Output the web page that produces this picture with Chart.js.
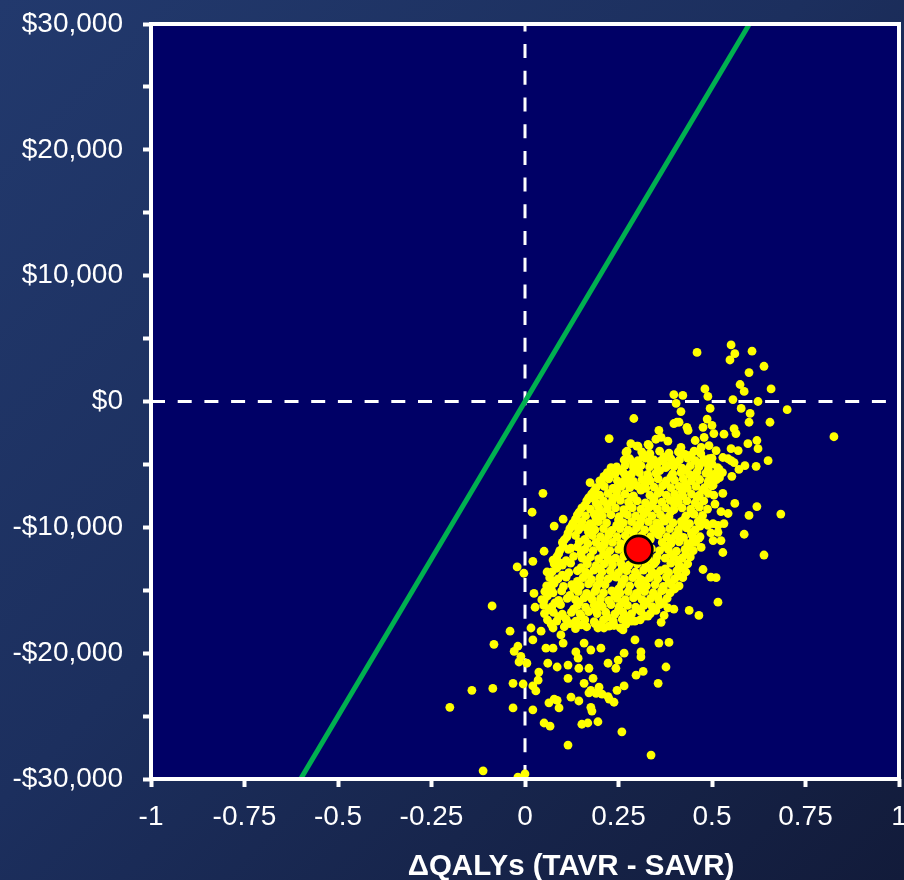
<!DOCTYPE html>
<html>
<head>
<meta charset="utf-8">
<script src="https://cdn.jsdelivr.net/npm/chart.js@4/dist/chart.umd.min.js"></script>
<style>
  html, body { margin: 0; padding: 0; }
  body {
    width: 904px; height: 880px; overflow: hidden;
    background: linear-gradient(135deg, #22396d 0%, #1c2f5e 45%, #121b3a 100%);
  }
  canvas { display: block; }
</style>
</head>
<body>
<canvas id="ce" width="904" height="880"></canvas>
<script>
// Axis ticks
const qalyTicks = [-1, -0.75, -0.5, -0.25, 0, 0.25, 0.5, 0.75, 1];
const costTicks = [-30000, -25000, -20000, -15000, -10000, -5000, 0, 5000, 10000, 15000, 20000, 25000, 30000];

// Willingness-to-pay threshold ($50,000 per QALY) and the zero reference lines
const wtpLine = [[-0.6, -30000], [0.6, 30000]];
const zeroQaly = [[0, -30000], [0, 30000]];
const zeroCost = [[-1, 0], [1, 0]];

// Mean incremental result
const meanPoint = [[0.304, -11770]];

// Bootstrap replicates: [ΔQALY, Δcost]
const scatterUpper = [
  [0.551,4500],[0.46,3900],[0.561,3800],[0.548,3300],[0.607,4000],[0.639,2800],[0.599,2300],[0.575,1350],
  [0.586,800],[0.658,1000],[0.398,550],[0.422,480],[0.481,1000],[0.489,400],[0.556,150],[0.623,0],
  [0.701,-650],[0.578,-550],[0.602,-950],[0.599,-1650],[0.655,-1650],[0.404,-150],[0.417,-800],[0.495,-550],
  [0.487,-1400],[0.5,-1900],[0.291,-1350],[0.826,-2800],[0.225,-2950],[0.406,-1650],[0.433,-2050],[0.436,-2300],
  [0.358,-2300],[0.35,-3000],[0.382,-3150],[0.332,-3500],[0.299,-3550],[0.273,-3950],[0.265,-4650],[0.417,-3650],
  [0.455,-3100],[0.476,-2050],[0.479,-2850],[0.505,-2550],[0.532,-2600],[0.559,-2150],[0.564,-2550],[0.62,-3100],
  [0.596,-3350],[0.623,-3750],[0.551,-3750],[0.57,-3900],[0.529,-4450],[0.551,-4700],[0.65,-4700],[0.618,-5150],
  [0.588,-5100],[0.572,-5400],[0.553,-5950],[0.519,-5400],[0.497,-5850],[0.471,-3650],[0.492,-3500],[0.23,-5250],
  [0.211,-5950],[0.267,-5800],[0.291,-5100],[0.316,-4300],[0.337,-4700],[0.372,-4500],[0.398,-4900],
  [0.364,-2850],[0.398,-1750],[0.412,-1650],[0.511,-3900],[0.492,-4550],[0.422,-4150],[0.444,-4300],[0.543,-4550],
  [0.559,-4850],[0.516,-5500],[0.497,-6000],[0.503,-6650],[0.318,-4300],[0.364,-4700],[0.382,-5100],[0.27,-4050],
  [0.283,-3350],[0.302,-3550],[0.329,-3400]
];

const scatterSides = [
  [0.529,-7300],[0.505,-7450],[0.508,-8150],[0.524,-8750],[0.543,-8900],[0.561,-8100],[0.62,-8350],[0.599,-9050],
  [0.684,-8950],[0.586,-10550],[0.639,-12200],[0.476,-13350],[0.497,-13950],[0.511,-14000],[0.503,-11050],[0.524,-11050],
  [0.529,-12000],[0.516,-10400],[0.497,-10450],[0.489,-9850],[0.503,-9700],[0.465,-10850],[0.471,-11600],[0.516,-15950],
  [0.532,-9700],[0.516,-9850],
  [0.048,-7300],[0.019,-8800],[-0.021,-13150],[-0.003,-13650],[0.021,-12700],[0.051,-11900],[0.078,-9900],[0.102,-9350],
  [0.128,-9700],[0.147,-10000],[0.024,-15250],[0.027,-16350],[0.051,-15800],[0.059,-13550],[0.078,-14450],[0.102,-11500],
  [0.123,-11650],[0.075,-12600],[0.096,-12850],[0.174,-6450],[0.184,-7700],[0.238,-6900],[0.275,-6500]
];

const scatterLower = [
  [-0.088,-16250],[-0.04,-18250],[-0.083,-19300],[-0.142,-22950],[-0.201,-24300],[-0.086,-22800],[-0.032,-22400],[-0.005,-22450],
  [-0.032,-24350],[0.021,-24500],[-0.112,-29350],[-0.019,-29850],[0.0,-29600],[0.051,-25550],[0.067,-25800],[0.115,-27300],
  [0.152,-25650],[0.168,-25550],[0.195,-25450],[0.259,-26250],[0.337,-28100],[0.176,-24300],[0.179,-24600],[0.064,-23950],
  [0.086,-23750],[0.091,-24350],[0.123,-23500],[0.144,-23800],[0.115,-22000],[0.158,-22400],[0.182,-22000],[0.176,-22950],
  [0.198,-22700],[0.206,-23250],[0.225,-23650],[0.238,-23900],[0.246,-22950],[0.265,-22600],[0.356,-22400],[0.377,-21100],
  [0.297,-21750],[0.316,-21450],[-0.029,-19850],[-0.019,-19450],[-0.011,-20250],[-0.016,-20700],[0.005,-20800],[0.021,-18950],
  [0.016,-18000],[0.043,-18250],[0.037,-21500],[0.035,-22150],[0.021,-22600],[0.029,-23000],[0.056,-19600],[0.061,-20800],
  [0.075,-19600],[0.086,-21100],[0.096,-18550],[0.102,-19200],[0.115,-20950],[0.142,-20400],[0.144,-21200],[0.171,-21200],
  [0.136,-19900],[0.158,-19200],[0.176,-19750],[0.203,-19600],[0.222,-20800],[0.243,-21200],[0.249,-20550],[0.265,-20000],
  [0.31,-19900],[0.31,-20300],[0.294,-18950],[0.358,-19200],[0.385,-19150],[0.364,-17550],[0.372,-17000],[0.398,-16500],
  [0.439,-16600],[0.465,-17000],[0.078,-23650],[0.171,-23150],[0.19,-23200],[0.222,-23450],
  [0.15,-17750],[0.187,-17650],[0.211,-18000],[0.238,-17800],[0.262,-18150],[0.294,-17450],[0.329,-17050],[0.382,-16400]
];

const scatterCore = [
  [0.312,-4000],[0.334,-4150],[0.36,-3950],[0.385,-4100],[0.41,-4000],[0.428,-4200],[0.452,-3950],[0.47,-4150],
  [0.28,-4550],[0.302,-4700],[0.322,-4500],[0.345,-4650],[0.37,-4750],[0.39,-4550],[0.413,-4650],[0.435,-4500],[0.455,-4700],[0.478,-4600],[0.5,-4500],
  [0.245,-5200],[0.268,-5050],[0.29,-5250],[0.31,-5100],[0.333,-5200],[0.352,-5050],[0.376,-5250],[0.398,-5150],[0.42,-5300],[0.442,-5100],[0.465,-5200],[0.49,-5050],[0.515,-5250],
  [0.22,-5650],[0.24,-5800],[0.262,-5600],[0.285,-5750],[0.306,-5650],[0.328,-5800],[0.35,-5700],[0.395,-5750],[0.417,-5650],[0.44,-5800],[0.46,-5600],[0.484,-5700],[0.505,-5800],[0.528,-5650],
  [0.2,-6300],[0.224,-6150],[0.247,-6300],[0.268,-6200],[0.29,-6350],[0.313,-6200],[0.335,-6300],[0.356,-6150],[0.378,-6300],[0.4,-6250],[0.423,-6150],[0.445,-6300],[0.467,-6200],[0.49,-6350],[0.512,-6200],
  [0.19,-6850],[0.212,-6750],[0.235,-6900],[0.257,-6750],[0.28,-6850],[0.3,-6700],[0.323,-6900],[0.345,-6800],[0.368,-6700],[0.39,-6850],[0.412,-6750],[0.434,-6900],[0.457,-6750],[0.48,-6850],[0.5,-6700],
  [0.178,-7350],[0.2,-7450],[0.222,-7300],[0.245,-7450],[0.267,-7350],[0.29,-7500],[0.334,-7450],[0.356,-7300],[0.378,-7450],[0.4,-7350],[0.422,-7500],[0.445,-7350],[0.466,-7450],[0.49,-7300],
  [0.165,-7900],[0.19,-8050],[0.21,-7900],[0.232,-8000],[0.255,-7850],[0.277,-8000],[0.3,-7900],[0.322,-8050],[0.344,-7900],[0.366,-8000],[0.388,-7850],[0.41,-8000],[0.433,-7900],[0.455,-8050],[0.478,-7900],
  [0.152,-8450],[0.175,-8550],[0.197,-8400],[0.22,-8550],[0.242,-8450],[0.264,-8600],[0.287,-8450],[0.31,-8550],[0.332,-8400],[0.354,-8550],[0.376,-8450],[0.398,-8600],[0.42,-8450],[0.443,-8550],[0.466,-8400],[0.488,-8550],
  [0.14,-9000],[0.162,-9100],[0.185,-8950],[0.207,-9100],[0.23,-9000],[0.252,-9150],[0.274,-9000],[0.296,-9100],[0.318,-8950],[0.34,-9100],[0.362,-9000],[0.385,-9150],[0.43,-9100],[0.452,-8950],[0.475,-9050],
  [0.13,-9650],[0.152,-9550],[0.174,-9700],[0.196,-9550],[0.218,-9650],[0.263,-9650],[0.285,-9550],[0.307,-9700],[0.33,-9550],[0.352,-9650],[0.374,-9500],[0.396,-9650],[0.418,-9550],[0.44,-9700],[0.463,-9550],[0.482,-9650],
  [0.12,-10100],[0.143,-10200],[0.165,-10050],[0.187,-10200],[0.21,-10100],[0.232,-10250],[0.254,-10100],[0.276,-10200],[0.298,-10050],[0.32,-10200],[0.342,-10100],[0.365,-10250],[0.387,-10100],[0.41,-10200],[0.432,-10050],[0.455,-10200],
  [0.112,-10750],[0.135,-10650],[0.18,-10650],[0.202,-10750],[0.224,-10600],[0.246,-10750],[0.268,-10650],[0.29,-10800],[0.312,-10650],[0.335,-10750],[0.357,-10600],[0.38,-10750],[0.402,-10650],[0.424,-10800],[0.447,-10650],[0.468,-10750],
  [0.1,-11200],[0.145,-11150],[0.168,-11300],[0.19,-11200],[0.212,-11350],[0.234,-11200],[0.256,-11300],[0.278,-11150],[0.3,-11300],[0.322,-11200],[0.367,-11200],[0.39,-11300],[0.412,-11150],[0.435,-11300],[0.456,-11200],
  [0.093,-11850],[0.116,-11750],[0.16,-11750],[0.182,-11850],[0.205,-11700],[0.227,-11850],[0.25,-11750],[0.272,-11900],[0.294,-11750],[0.316,-11850],[0.338,-11700],[0.36,-11850],[0.383,-11750],[0.405,-11900],[0.428,-11750],[0.45,-11850],
  [0.085,-12350],[0.13,-12300],[0.153,-12450],[0.175,-12350],[0.197,-12500],[0.22,-12350],[0.242,-12450],[0.264,-12300],[0.286,-12450],[0.308,-12350],[0.33,-12500],[0.353,-12350],[0.375,-12450],[0.397,-12300],[0.42,-12450],[0.442,-12350],
  [0.078,-12900],[0.1,-13000],[0.122,-12850],[0.167,-12900],[0.19,-13050],[0.212,-12900],[0.234,-13000],[0.256,-12850],[0.278,-13000],[0.3,-12900],[0.323,-13050],[0.345,-12900],[0.39,-12850],[0.412,-13000],[0.435,-12900],
  [0.072,-13550],[0.117,-13600],[0.14,-13450],[0.162,-13550],[0.184,-13400],[0.206,-13550],[0.228,-13450],[0.25,-13600],[0.272,-13450],[0.295,-13550],[0.317,-13400],[0.34,-13550],[0.362,-13450],[0.384,-13600],[0.406,-13450],[0.43,-13550],
  [0.066,-14000],[0.088,-14100],[0.11,-13950],[0.155,-14000],[0.178,-14150],[0.2,-14000],[0.222,-14100],[0.244,-13950],[0.266,-14100],[0.288,-14000],[0.31,-14150],[0.333,-14000],[0.355,-14100],[0.378,-13950],[0.4,-14100],[0.422,-14000],
  [0.058,-14650],[0.103,-14700],[0.125,-14550],[0.148,-14650],[0.17,-14500],[0.192,-14650],[0.214,-14550],[0.258,-14550],[0.28,-14650],[0.303,-14500],[0.325,-14650],[0.348,-14550],[0.37,-14700],[0.392,-14550],[0.412,-14650],
  [0.053,-15100],[0.075,-15200],[0.098,-15050],[0.142,-15100],[0.165,-15250],[0.187,-15100],[0.21,-15200],[0.232,-15050],[0.254,-15200],[0.276,-15100],[0.298,-15250],[0.32,-15100],[0.343,-15200],[0.365,-15050],[0.388,-15200],
  [0.045,-15750],[0.09,-15800],[0.113,-15650],[0.135,-15750],[0.158,-15600],[0.18,-15750],[0.202,-15650],[0.224,-15800],[0.246,-15650],[0.268,-15750],[0.29,-15600],[0.313,-15750],[0.336,-15650],[0.358,-15800],[0.38,-15650],
  [0.05,-16200],[0.072,-16300],[0.095,-16150],[0.14,-16200],[0.162,-16350],[0.185,-16200],[0.207,-16300],[0.23,-16150],[0.252,-16300],[0.274,-16200],[0.296,-16350],[0.318,-16200],[0.34,-16300],[0.36,-16150],
  [0.052,-16850],[0.076,-16750],[0.1,-16900],[0.124,-16750],[0.147,-16850],[0.17,-16700],[0.193,-16850],[0.216,-16750],[0.24,-16900],[0.262,-16750],[0.285,-16850],[0.31,-16700],[0.335,-16850],
  [0.06,-17350],[0.085,-17450],[0.11,-17300],[0.136,-17450],[0.16,-17350],[0.185,-17500],[0.21,-17350],[0.236,-17450],[0.26,-17300],[0.285,-17450],[0.308,-17350],
  [0.075,-18000],[0.105,-17900],[0.135,-18050],[0.165,-17900],[0.195,-18000],[0.225,-17850],[0.255,-18000]
];

// Replicates lying between the rows above, where the cloud is densest
const scatterCoreFill = [
  [0.325,-4350],[0.372,-4400],[0.44,-4300],
  [0.29,-4900],[0.34,-4950],[0.405,-4850],[0.47,-4900],[0.5,-4950],
  [0.255,-5450],[0.3,-5400],[0.36,-5500],[0.43,-5450],[0.49,-5400],
  [0.215,-6000],[0.28,-5950],[0.33,-6050],[0.39,-6000],[0.455,-5950],[0.52,-6050],
  [0.205,-6550],[0.26,-6500],[0.32,-6600],[0.375,-6500],[0.43,-6600],[0.49,-6550],
  [0.185,-7100],[0.245,-7150],[0.31,-7050],[0.36,-7150],[0.42,-7100],[0.475,-7050],
  [0.17,-7650],[0.235,-7700],[0.285,-7600],[0.345,-7700],[0.405,-7650],[0.46,-7600],
  [0.16,-8250],[0.22,-8200],[0.28,-8300],[0.34,-8250],[0.4,-8200],[0.465,-8300],
  [0.145,-8800],[0.2,-8750],[0.265,-8850],[0.325,-8800],[0.39,-8750],[0.445,-8850],
  [0.135,-9350],[0.19,-9300],[0.25,-9400],[0.31,-9350],[0.37,-9300],[0.425,-9400],[0.47,-9350],
  [0.125,-9900],[0.18,-9950],[0.245,-9850],[0.3,-9900],[0.36,-9950],[0.42,-9850],[0.468,-9900],
  [0.115,-10450],[0.17,-10400],[0.225,-10500],[0.29,-10450],[0.35,-10400],[0.41,-10500],[0.445,-10450],
  [0.105,-11000],[0.16,-10950],[0.215,-11050],[0.275,-11000],[0.335,-10950],[0.39,-11050],[0.45,-11000],
  [0.14,-11550],[0.2,-11500],[0.26,-11600],[0.32,-11550],[0.375,-11500],[0.44,-11600],
  [0.09,-12100],[0.15,-12050],[0.21,-12150],[0.27,-12100],[0.33,-12050],[0.39,-12150],[0.43,-12100],
  [0.11,-12650],[0.165,-12700],[0.23,-12600],[0.29,-12650],[0.35,-12700],[0.41,-12600],
  [0.085,-13250],[0.15,-13200],[0.2,-13300],[0.26,-13250],[0.33,-13200],[0.375,-13300],[0.42,-13250],
  [0.1,-13800],[0.17,-13750],[0.235,-13850],[0.3,-13800],[0.35,-13750],[0.41,-13850],
  [0.075,-14350],[0.14,-14300],[0.2,-14400],[0.26,-14350],[0.32,-14300],[0.385,-14400],
  [0.07,-14900],[0.13,-14850],[0.19,-14950],[0.25,-14900],[0.31,-14850],[0.37,-14950],[0.4,-14900],
  [0.06,-15450],[0.12,-15400],[0.175,-15500],[0.24,-15450],[0.3,-15400],[0.355,-15500],
  [0.08,-16000],[0.145,-15950],[0.2,-16050],[0.26,-16000],[0.325,-15950],[0.37,-16050],
  [0.065,-16550],[0.13,-16500],[0.19,-16600],[0.25,-16550],[0.3,-16500],[0.35,-16600],
  [0.09,-17100],[0.15,-17050],[0.22,-17150],[0.275,-17100],[0.32,-17050],
  [0.07,-17700],[0.12,-17650],[0.2,-17750],[0.27,-17700]
];

const toXY = arr => arr.map(([x, y]) => ({ x, y }));
const FONT = '"Liberation Sans", Arial, sans-serif';
const PANEL_RIGHT = 899;

const fmtCost = v => (v < 0 ? '-' : '') + '$' + Math.abs(v).toLocaleString('en-US');

// Let the plot panel run out to the right edge (the last tick label may overhang it)
const panelExtent = {
  id: 'panelExtent',
  afterLayout(chart) {
    const a = chart.chartArea;
    const x = chart.scales.x;
    if (a.right !== PANEL_RIGHT) {
      a.right = PANEL_RIGHT;
      a.width = a.right - a.left;
      x.right = PANEL_RIGHT;
      x.width = x.right - x.left;
      x.configure();
    }
  }
};

// Navy plot panel behind the data
const panelFill = {
  id: 'panelFill',
  beforeDraw(chart) {
    const { ctx, chartArea: a } = chart;
    ctx.save();
    ctx.fillStyle = '#000066';
    ctx.fillRect(a.left, a.top, a.right - a.left, a.bottom - a.top);
    ctx.restore();
  }
};

// White frame around the plot panel
const panelFrame = {
  id: 'panelFrame',
  afterDatasetsDraw(chart) {
    const { ctx, chartArea: a } = chart;
    ctx.save();
    ctx.strokeStyle = '#ffffff';
    ctx.lineWidth = 4;
    ctx.strokeRect(a.left, a.top, a.right - a.left, a.bottom - a.top);
    ctx.restore();
  }
};

// Horizontal axis caption
const xCaption = {
  id: 'xCaption',
  afterDraw(chart) {
    const { ctx } = chart;
    ctx.save();
    ctx.fillStyle = '#ffffff';
    ctx.font = 'bold 29.5px ' + FONT;
    ctx.textAlign = 'center';
    ctx.textBaseline = 'alphabetic';
    ctx.fillText('\u0394QALYs (TAVR - SAVR)', 571, 875);
    ctx.restore();
  }
};

const lineSet = (data, color, width, dash, order) => ({
  type: 'scatter',
  data: toXY(data),
  showLine: true,
  borderColor: color,
  borderWidth: width,
  borderDash: dash,
  pointRadius: 0,
  fill: false,
  order
});

new Chart(document.getElementById('ce'), {
  type: 'scatter',
  data: {
    datasets: [
      {
        data: toXY(meanPoint),
        backgroundColor: '#ff0000',
        borderColor: '#000000',
        borderWidth: 2.6,
        pointRadius: 13.7,
        order: 0
      },
      lineSet(wtpLine, '#00b050', 5, [], 1),
      {
        data: toXY([...scatterCore, ...scatterCoreFill, ...scatterUpper, ...scatterSides, ...scatterLower]),
        backgroundColor: '#ffff00',
        borderWidth: 0,
        pointRadius: 4.4,
        order: 2
      },
      lineSet(zeroQaly, '#ffffff', 3, [14, 12.7], 3),
      lineSet(zeroCost, '#ffffff', 3, [14, 12.7], 3)
    ]
  },
  options: {
    responsive: false,
    animation: false,
    devicePixelRatio: 1,
    layout: { padding: { top: 24, right: 5, left: 0, bottom: 0 } },
    plugins: {
      legend: { display: false },
      tooltip: { enabled: false }
    },
    scales: {
      x: {
        type: 'linear',
        min: -1,
        max: 1,
        afterBuildTicks: s => { s.ticks = qalyTicks.map(v => ({ value: v })); },
        afterFit: s => { s.height = 101; s.paddingLeft = 0; s.paddingRight = 0; },
        ticks: {
          color: '#ffffff',
          font: { family: FONT, size: 28 },
          padding: 13,
          maxRotation: 0,
          autoSkip: false,
          callback: v => String(Math.round(v * 100) / 100)
        },
        grid: {
          drawOnChartArea: false,
          drawTicks: true,
          tickLength: 8,
          tickColor: '#ffffff',
          tickWidth: 4
        },
        border: { display: false }
      },
      y: {
        type: 'linear',
        min: -30000,
        max: 30000,
        afterBuildTicks: s => { s.ticks = costTicks.map(v => ({ value: v })); },
        afterFit: s => { s.width = 151; s.paddingTop = 0; s.paddingBottom = 0; },
        ticks: {
          color: '#ffffff',
          font: { family: FONT, size: 28 },
          padding: 20,
          autoSkip: false,
          callback: v => (v % 10000 === 0 ? fmtCost(v) : '')
        },
        grid: {
          drawOnChartArea: false,
          drawTicks: true,
          tickLength: 8,
          tickColor: '#ffffff',
          tickWidth: 4
        },
        border: { display: false }
      }
    }
  },
  plugins: [panelExtent, panelFill, panelFrame, xCaption]
});
</script>
</body>
</html>
